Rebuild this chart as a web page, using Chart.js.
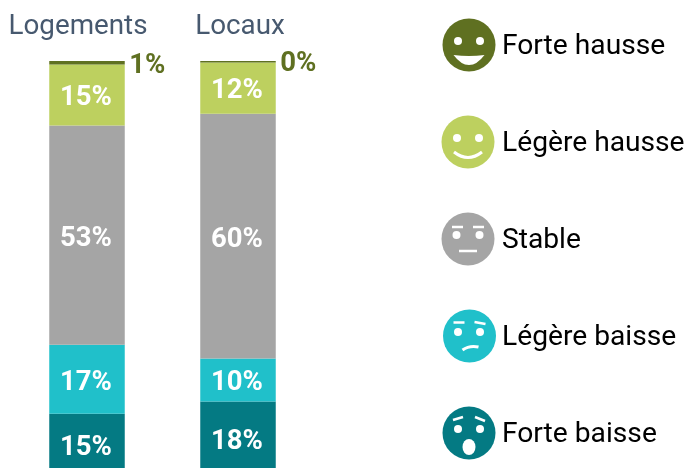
<!DOCTYPE html>
<html><head><meta charset="utf-8">
<style>html,body{margin:0;padding:0;background:#fff;overflow:hidden}#w{width:685px;height:468px;position:relative}</style>
<script src="https://cdn.jsdelivr.net/npm/chart.js@4"></script>
</head><body><div id="w"><canvas id="c" width="685" height="468"></canvas></div>
<script>
const categories = ['Logements', 'Locaux'];
const seriesNames = ['Forte hausse', 'Légère hausse', 'Stable', 'Légère baisse', 'Forte baisse'];
const forteHausse = [0.85, 0.37];
const legereHausse = [14.9, 12.49];
const stable = [53.49, 59.75];
const legereBaisse = [16.8, 10.49];
const forteBaisse = [15, 18];
const colors = ['#5f7021', '#bdd05f', '#a5a5a5', '#20c0ca', '#047a83'];
const titleColor = '#47596f';
const FONT = 'Roboto';

function drawFace(ctx, kind, cx, cy, col) {
  ctx.save();
  ctx.translate(cx, cy);
  ctx.fillStyle = col;
  ctx.beginPath(); ctx.arc(0, 0, 26.5, 0, Math.PI * 2); ctx.fill();
  ctx.fillStyle = '#fff'; ctx.strokeStyle = '#fff'; ctx.lineCap = 'butt'; ctx.lineWidth = 2.5;
  const eye = (x, y) => { ctx.beginPath(); ctx.arc(x, y, 4, 0, Math.PI * 2); ctx.fill(); };
  const line = (a, b, c, d) => { ctx.beginPath(); ctx.moveTo(a, b); ctx.lineTo(c, d); ctx.stroke(); };
  if (kind === 0) {
    eye(-11, -4); eye(11, -4);
    ctx.beginPath(); ctx.moveTo(-15.5, 10); ctx.quadraticCurveTo(0, 12, 15.5, 10);
    ctx.quadraticCurveTo(8, 20, 0, 20); ctx.quadraticCurveTo(-8, 20, -15.5, 10); ctx.fill();
  } else if (kind === 1) {
    eye(-11, -4); eye(11, -4);
    ctx.lineWidth = 3;
    ctx.beginPath(); ctx.moveTo(-14, 10); ctx.quadraticCurveTo(0, 21, 14, 10); ctx.stroke();
  } else if (kind === 2) {
    eye(-11.5, -4); eye(11.5, -4);
    line(-16, -12, -5, -12); line(5, -12, 16, -12); line(-9, 12, 9, 12);
  } else if (kind === 3) {
    eye(-11.5, -4); eye(10.5, -4);
    line(-16, -13.5, -5, -13.5); line(5, -14, 16, -12);
    ctx.lineWidth = 3;
    ctx.beginPath(); ctx.moveTo(-7, 14); ctx.quadraticCurveTo(0, 9, 9, 11); ctx.stroke();
  } else {
    eye(-11, -4); eye(11, -4);
    line(-16, -13, -6, -16); line(6, -16, 16, -12);
    ctx.beginPath(); ctx.ellipse(0, 14, 6.5, 8, 0, 0, Math.PI * 2); ctx.fill();
  }
  ctx.restore();
}

const annotate = {
  id: 'annotate',
  afterDatasetsDraw(chart) {
    const ctx = chart.ctx;
    ctx.save();
    ctx.textBaseline = 'middle';
    chart.data.datasets.forEach((ds, di) => {
      chart.getDatasetMeta(di).data.forEach((bar, i) => {
        const txt = Math.round(ds.data[i]) + '%';
        ctx.font = 'bold 27.5px ' + FONT;
        if (di === 0) {
          ctx.fillStyle = colors[0]; ctx.textAlign = 'left';
          ctx.fillText(txt, bar.x + bar.width / 2 + 4.5, bar.y + 2);
        } else {
          ctx.fillStyle = '#fff'; ctx.textAlign = 'center';
          ctx.fillText(txt, bar.x - 1, (bar.y + bar.base) / 2 + 3.5);
        }
      });
    });
    const first = chart.getDatasetMeta(0).data;
    ctx.font = '27.8px ' + FONT; ctx.fillStyle = titleColor; ctx.textAlign = 'center';
    ctx.fillText(categories[0], first[0].x - 9, 27.5);
    ctx.fillText(categories[1], first[1].x + 2, 27.5);
    const cxs = [469, 468, 468, 469.5, 469], cys = [45, 142, 239, 336, 433];
    seriesNames.forEach((n, i) => {
      drawFace(ctx, i, cxs[i], cys[i], colors[i]);
      ctx.font = '28.2px ' + FONT; ctx.fillStyle = '#000'; ctx.textAlign = 'left';
      ctx.fillText(n, 502, cys[i] + 2);
    });
    ctx.restore();
  }
};

const vals = [forteHausse, legereHausse, stable, legereBaisse, forteBaisse];
new Chart(document.getElementById('c'), {
  type: 'bar',
  data: {
    labels: categories,
    datasets: seriesNames.map((n, i) => ({ label: n, data: vals[i], backgroundColor: colors[i], borderWidth: 0 }))
  },
  options: {
    responsive: false, animation: false,
    layout: { padding: { left: 11.5, right: 371.5, top: 61, bottom: 0 } },
    plugins: { legend: { display: false }, tooltip: { enabled: false } },
    datasets: { bar: { barPercentage: 0.5, categoryPercentage: 1 } },
    scales: {
      x: { stacked: true, display: false },
      y: { stacked: true, display: false, reverse: true, min: 0, max: 99.3 }
    }
  },
  plugins: [annotate]
});
</script></body></html>
